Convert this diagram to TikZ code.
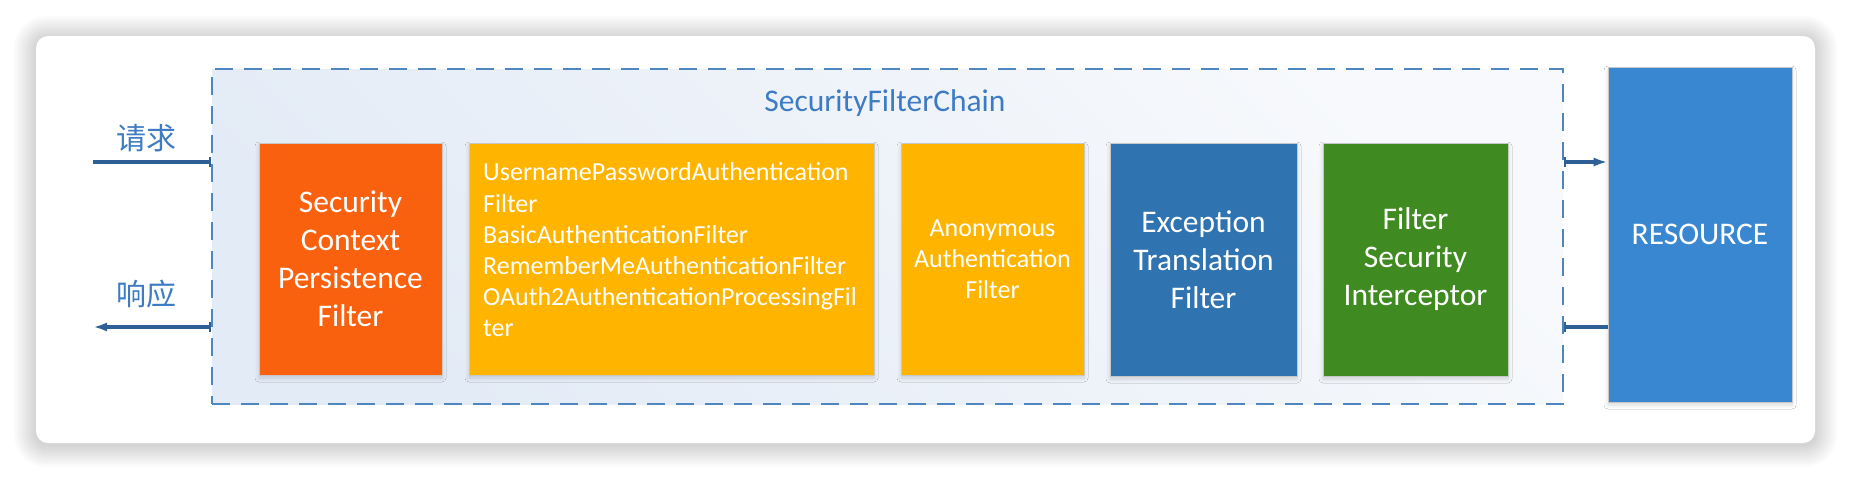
\documentclass[tikz,border=0pt]{standalone}
\usepackage{fontspec}
\setmainfont{Carlito}
\newfontfamily\cjk{Noto Sans CJK SC}
\usetikzlibrary{shadows.blur,arrows.meta}
\definecolor{chainfillA}{HTML}{E3EBF6}
\definecolor{chainfillB}{HTML}{F7F9FC}
\definecolor{chainline}{HTML}{4E86C0}
\definecolor{titleblue}{HTML}{3D7CC4}
\definecolor{orangebox}{HTML}{FA610F}
\definecolor{yellowbox}{HTML}{FFB400}
\definecolor{bluebox}{HTML}{2F73B1}
\definecolor{greenbox}{HTML}{3F8A21}
\definecolor{resbox}{HTML}{3A87D1}
\definecolor{connblue}{HTML}{2E5F96}
\tikzset{
  card/.style={fill=white, rounded corners=12pt, inner sep=0pt},
  chainbox/.style={draw=chainline, line width=2.4pt, dash pattern=on 18pt off 11pt,
    left color=chainfillA, right color=chainfillB, shading angle=135, inner sep=0pt},
  filterbox/.style={draw=black!22, line width=0.6pt, inner sep=0pt, text=white, align=center,
    font=\fontsize{31.5}{38}\selectfont,
    blur shadow={shadow xshift=0pt, shadow yshift=-3pt, shadow blur radius=4pt, shadow opacity=15}},
  smalltext/.style={text=white, align=center, font=\fontsize{26}{31.2}\selectfont},
  conn/.style={draw=connblue, line width=3.6pt},
  cnlabel/.style={text=titleblue, font=\cjk\fontsize{30}{32}\selectfont, inner sep=0pt},
}
\begin{document}
\begin{tikzpicture}[x=1pt,y=-1pt]
\useasboundingbox (0,0) rectangle (1852,480);
\fill[white] (0,0) rectangle (1852,480);
% soft card shadow
\foreach \i in {1,...,14}{
  \fill[black, opacity=0.012, rounded corners={12pt+\i*1.5pt}]
    (36-\i*1.6,38-\i*1.6) rectangle (1815+\i*1.6,445+\i*1.6);
}
\node[card, minimum width=1779pt, minimum height=407pt] (card) at (925.5,239.5) {};
\node[chainbox, minimum width=1351pt, minimum height=335pt] (chain) at (887.5,236.5) {};
\node[text=titleblue, font=\fontsize{31.5}{36}\selectfont] (title) at (885,103) {SecurityFilterChain};

\node[filterbox, fill=orangebox, minimum width=183pt, minimum height=232pt] (scpf) at (350.5,259)
  {Security\\Context\\Persistence\\Filter};
\node[filterbox, fill=yellowbox, minimum width=405pt, minimum height=232pt] (auth) at (671.5,259) {};
\node[smalltext, align=left, anchor=west, inner sep=0pt] (authtext) at (483,250)
  {UsernamePasswordAuthentication\\Filter\\BasicAuthenticationFilter\\RememberMeAuthenticationFilter\\OAuth2AuthenticationProcessingFil\\ter};
\node[filterbox, fill=yellowbox, minimum width=183pt, minimum height=232pt] (anon) at (992.5,259) {};
\node[smalltext] (anontext) at (anon.center) {Anonymous\\Authentication\\Filter};
\node[filterbox, fill=bluebox, minimum width=187pt, minimum height=233pt] (exc) at (1203.5,259.5)
  {Exception\\Translation\\Filter};
\node[filterbox, fill=greenbox, minimum width=185pt, minimum height=233pt] (fsi) at (1415.5,259.5)
  {Filter\\Security\\Interceptor};
\node[filterbox, fill=resbox, minimum width=184pt, minimum height=335pt] (res) at (1700,234.5) {};
\node[text=white, font=\fontsize{31.5}{38}\selectfont] (restext) at (1700,234) {RESOURCE};

\coordinate (reqL) at (93,162);
\coordinate (resL) at (93,327);
\node[cnlabel] (req) at (146,138) {请求};
\node[cnlabel] (resp) at (146,294) {响应};

\draw[conn, -{Bar[width=10pt,line width=2pt]}] (reqL) -- (reqL -| chain.west);
\draw[conn, {Latex[length=14pt,width=9pt]}-{Bar[width=10pt,line width=2pt]}] (resL) -- (resL -| chain.west);
\draw[conn, {Bar[width=10pt,line width=2pt]}-{Latex[length=14pt,width=9pt]}] (chain.east |- reqL) -- (res.west |- reqL);
\draw[conn, {Bar[width=10pt,line width=2pt]}-] (chain.east |- resL) -- (res.west |- resL);
\end{tikzpicture}
\end{document}
